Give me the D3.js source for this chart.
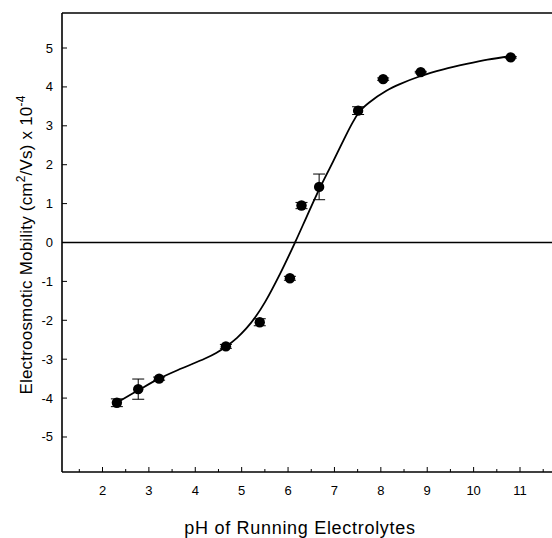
<!DOCTYPE html>
<html><head><meta charset="utf-8">
<script src="https://cdn.jsdelivr.net/npm/d3@7"></script>
<style>body{margin:0;background:#fff}svg{display:block}text{font-family:"Liberation Sans",Arial,sans-serif;fill:#000}</style>
</head><body><svg id="c" width="552" height="538"></svg>
<script>
// measured data
const pH       = [2.31, 2.77, 3.22, 4.66, 5.39, 6.04, 6.29, 6.67, 7.51, 8.05, 8.86, 10.80];
const mobility = [-4.12, -3.77, -3.50, -2.67, -2.05, -0.92, 0.95, 1.43, 3.39, 4.20, 4.38, 4.76];
const errBar   = [0.10, 0.26, 0.04, 0.05, 0.09, 0.05, 0.08, 0.33, 0.10, 0.03, 0.02, 0.02];
// fitted curve
const curvePH  = [2.31, 2.77, 3.22, 3.70, 4.20, 4.45, 4.68, 4.90, 5.10, 5.30, 5.50, 5.83, 6.15, 6.40, 6.62, 6.97, 7.20, 7.40, 7.55, 7.75, 8.12, 8.41, 8.86, 9.35, 9.85, 10.30, 10.80];
const curveMob = [-4.12, -3.80, -3.50, -3.24, -2.99, -2.84, -2.66, -2.45, -2.21, -1.91, -1.54, -0.80, 0.00, 0.66, 1.24, 2.08, 2.64, 3.10, 3.38, 3.60, 3.90, 4.07, 4.28, 4.45, 4.59, 4.70, 4.79];
const xTicks = [2,3,4,5,6,7,8,9,10,11];
const xMinor = [1.5,2.5,3.5,4.5,5.5,6.5,7.5,8.5,9.5,10.5,11.5];
const yTicks = [-5,-4,-3,-2,-1,0,1,2,3,4,5];

const svg = d3.select("#c");
const L = 62, R = 552, T = 13, B = 472;
const x = d3.scaleLinear().domain([2, 11]).range([102.5, 520]);
const y = d3.scaleLinear().domain([-5.9, 5.9]).range([B, T]);

// frame
svg.append("line").attr("x1",L).attr("x2",L).attr("y1",T).attr("y2",B).attr("stroke","#000").attr("stroke-width",1.6);
svg.append("line").attr("x1",L).attr("x2",R).attr("y1",T).attr("y2",T).attr("stroke","#000").attr("stroke-width",1.4);
svg.append("line").attr("x1",L).attr("x2",R).attr("y1",B).attr("y2",B).attr("stroke","#000").attr("stroke-width",1.6);
// zero line
svg.append("line").attr("x1",L).attr("x2",R).attr("y1",y(0)).attr("y2",y(0)).attr("stroke","#000").attr("stroke-width",1.6);

// x axis ticks (inward)
const gx = svg.append("g");
gx.selectAll("line.maj").data(xTicks).join("line").attr("class","maj")
  .attr("x1",d=>x(d)).attr("x2",d=>x(d)).attr("y1",B).attr("y2",B-5).attr("stroke","#000").attr("stroke-width",1);
gx.selectAll("line.min").data(xMinor).join("line").attr("class","min")
  .attr("x1",d=>x(d)).attr("x2",d=>x(d)).attr("y1",B).attr("y2",B-3).attr("stroke","#000").attr("stroke-width",1);
gx.selectAll("text").data(xTicks).join("text")
  .attr("x",d=>x(d)).attr("y",495).attr("text-anchor","middle").attr("font-size",13).text(d=>d);

// y axis ticks (inward)
const gy = svg.append("g");
gy.selectAll("line").data(yTicks).join("line")
  .attr("x1",L).attr("x2",L+5).attr("y1",d=>y(d)).attr("y2",d=>y(d)).attr("stroke","#000").attr("stroke-width",1);
gy.selectAll("text").data(yTicks).join("text")
  .attr("x",53).attr("y",d=>y(d)+4.5).attr("text-anchor","end").attr("font-size",13).text(d=>d);

// axis titles
svg.append("text").attr("x",300).attr("y",534).attr("text-anchor","middle").attr("font-size",18)
  .attr("letter-spacing",0.7).text("pH of Running Electrolytes");
const yt = svg.append("text").attr("transform","translate(32,245) rotate(-90)").attr("text-anchor","middle")
  .attr("font-size",17).attr("letter-spacing",0.2);
yt.append("tspan").text("Electroosmotic Mobility (cm");
yt.append("tspan").attr("baseline-shift","super").attr("font-size",12).text("2");
yt.append("tspan").text("/Vs) x 10");
yt.append("tspan").attr("baseline-shift","super").attr("font-size",12).text("-4");

// fitted curve
const pts = curvePH.map((d,i)=>[d, curveMob[i]]);
svg.append("path").datum(pts)
  .attr("d", d3.line().x(d=>x(d[0])).y(d=>y(d[1])).curve(d3.curveCatmullRom.alpha(0.5)))
  .attr("fill","none").attr("stroke","#000").attr("stroke-width",1.8);

// error bars
const data = pH.map((d,i)=>({x:d, y:mobility[i], e:errBar[i]}));
const eb = svg.append("g").attr("stroke","#000").attr("stroke-width",1);
data.forEach(d=>{
  eb.append("line").attr("x1",x(d.x)).attr("x2",x(d.x)).attr("y1",y(d.y-d.e)).attr("y2",y(d.y+d.e));
  [d.y-d.e, d.y+d.e].forEach(v=>eb.append("line").attr("x1",x(d.x)-6).attr("x2",x(d.x)+6).attr("y1",y(v)).attr("y2",y(v)));
});
// points
svg.selectAll("circle").data(data).join("circle")
  .attr("cx",d=>x(d.x)).attr("cy",d=>y(d.y)).attr("r",5.2).attr("fill","#000");
</script></body></html>
